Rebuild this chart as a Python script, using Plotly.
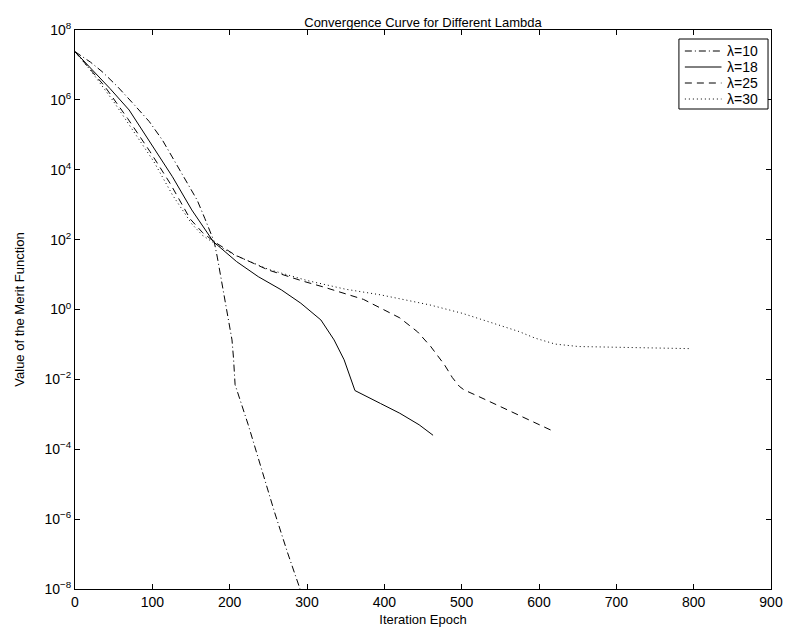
import plotly.graph_objects as go

# Iteration epochs and log10 of merit-function values
x_l10 = [0, 20, 35, 55, 77, 96, 113, 128, 143, 158, 168, 176, 180, 184, 189, 194, 200, 203, 205, 207, 224, 241, 258, 275, 287, 291]
e_l10 = [7.38, 7.08, 6.81, 6.38, 5.85, 5.38, 4.85, 4.28, 3.71, 3.13, 2.6, 2.15, 1.94, 1.5, 0.9, 0.27, -0.45, -0.87, -1.4, -2.15, -3.3, -4.55, -5.8, -6.97, -7.74, -8.0]

x_l18 = [0, 20, 45, 70, 94, 126, 151, 179, 209, 237, 267, 292, 318, 335, 348, 356, 360, 362, 395, 420, 445, 463]
e_l18 = [7.38, 6.92, 6.33, 5.71, 4.90, 3.8, 2.85, 1.94, 1.37, 0.94, 0.56, 0.18, -0.30, -0.87, -1.44, -1.92, -2.2, -2.32, -2.69, -2.97, -3.3, -3.6]

x_l25 = [0, 20, 38, 68, 97, 123, 149, 165, 180, 207, 250, 295, 322, 373, 420, 443, 460, 478, 488, 497, 503, 522, 550, 585, 620]
e_l25 = [7.38, 6.88, 6.4, 5.47, 4.52, 3.61, 2.59, 2.2, 1.94, 1.56, 1.13, 0.81, 0.64, 0.29, -0.24, -0.64, -1.06, -1.59, -1.95, -2.2, -2.3, -2.49, -2.78, -3.12, -3.5]

x_l30 = [0, 20, 50, 87, 102, 126, 151, 165, 180, 207, 250, 300, 350, 395, 423, 459, 501, 540, 574, 595, 621, 651, 715, 795]
e_l30 = [7.38, 6.85, 5.95, 4.71, 4.23, 3.28, 2.45, 2.12, 1.9, 1.55, 1.15, 0.83, 0.58, 0.42, 0.29, 0.13, -0.11, -0.39, -0.63, -0.82, -0.99, -1.06, -1.09, -1.12]

series_names = ["λ=10", "λ=18", "λ=25", "λ=30"]
series_x = [x_l10, x_l18, x_l25, x_l30]
series_e = [e_l10, e_l18, e_l25, e_l30]
dashes = ["7px,3px,1px,3px", "solid", "7px,5px", "1px,3px"]

x_ticks = [0, 100, 200, 300, 400, 500, 600, 700, 800, 900]
y_exps = [8, 6, 4, 2, 0, -2, -4, -6, -8]

W, H = 795, 639
ML, MR, MT, MB = 75, 17, 30, 50
PW, PH = W - ML - MR, H - MT - MB


def px_x(px):
    return (px - ML) / PW


def px_y(py):
    return (H - MB - py) / PH


fig = go.Figure()
for name, xs, es, d in zip(series_names, series_x, series_e, dashes):
    fig.add_trace(go.Scatter(
        x=xs, y=[10 ** e for e in es], mode="lines", name=name,
        line=dict(color="black", width=1, dash=d), showlegend=False,
    ))

font_family = "Liberation Sans, Arial, sans-serif"

# Legend box drawn in paper coordinates (compact MATLAB-style legend)
leg_left, leg_right, leg_top, leg_bottom = 685, 775, 39, 109
row_y = [51, 67, 83, 99]
shapes = [dict(type="rect", xref="paper", yref="paper",
               x0=px_x(leg_left), x1=px_x(leg_right), y0=px_y(leg_bottom), y1=px_y(leg_top),
               line=dict(color="black", width=1), fillcolor="white", layer="above")]
annotations = []
for name, d, ry in zip(series_names, dashes, row_y):
    shapes.append(dict(type="line", xref="paper", yref="paper",
                       x0=px_x(691), x1=px_x(728), y0=px_y(ry), y1=px_y(ry),
                       line=dict(color="black", width=1, dash=d), layer="above"))
    annotations.append(dict(text=name, xref="paper", yref="paper", x=px_x(732), y=px_y(ry),
                            xanchor="left", yanchor="middle", showarrow=False,
                            font=dict(size=14, family=font_family, color="black")))

fig.update_layout(
    width=W, height=H,
    margin=dict(l=ML, r=MR, t=MT, b=MB),
    paper_bgcolor="white", plot_bgcolor="white",
    font=dict(family=font_family, size=14, color="black"),
    title=dict(text="Convergence Curve for Different Lambda", x=0.5, xref="paper",
               y=1, yref="paper", yanchor="bottom", pad=dict(b=3),
               font=dict(size=13, family=font_family, color="black")),
    showlegend=False,
    shapes=shapes,
    annotations=annotations,
)
fig.update_xaxes(
    range=[0, 900], tickvals=x_ticks, ticktext=[str(v) for v in x_ticks],
    showgrid=False, zeroline=False, showline=True, linecolor="black", linewidth=1,
    mirror="ticks", ticks="inside", ticklen=5, tickcolor="black",
    tickfont=dict(size=14),
    title=dict(text="Iteration Epoch", font=dict(size=13), standoff=6),
)
fig.update_yaxes(
    type="log", range=[-8, 8],
    tickvals=[10 ** e for e in y_exps],
    ticktext=["10<sup>" + (str(e) if e >= 0 else "−" + str(-e)) + "</sup>" for e in y_exps],
    showgrid=False, zeroline=False, showline=True, linecolor="black", linewidth=1,
    mirror="ticks", ticks="inside", ticklen=5, tickcolor="black",
    tickfont=dict(size=14),
    title=dict(text="Value of the Merit Function", font=dict(size=13), standoff=16),
)
fig.write_html("out.html")
